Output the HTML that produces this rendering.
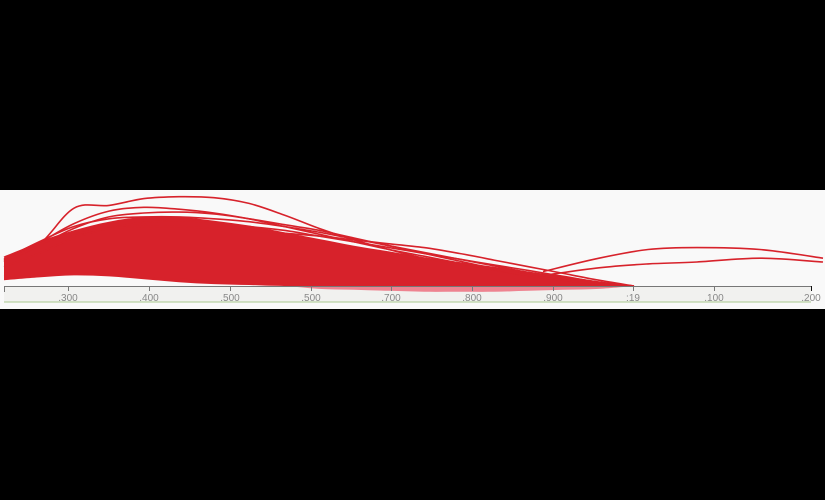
<!DOCTYPE html>
<html><head><meta charset="utf-8"><style>
html,body{margin:0;padding:0;background:#000;width:825px;height:500px;overflow:hidden}
svg{display:block}
</style></head><body>
<svg id="chart" width="825" height="500">
<rect x="0" y="190" width="825" height="119" fill="#f9f9f9"/>
<rect x="4" y="287" width="807" height="15" fill="#f1f1ef"/>
<line x1="4" y1="302" x2="811" y2="302" stroke="#a9c98f" stroke-width="1"/>
<g id="marks"></g>
<g id="axis"></g>
</svg>
<script>
const xs = [0,5,10,15,20,25,30,35,40,45,50,55,60,65,70,75,80,85,90];
const bandUpper = [29,46,58,67,72,72,68,63,56,49,42,36,30,25,20,15,10,5,0];
const bandLower = [6,9,11,10,7,4,2,1,0,0,0,0,0,0,0,0,0,0,0];
const pinkBand = [0,0,0,0,0,0,0,0,0,-3,-4,-5,-6,-6,-6,-5,-4,-3,0];
const curveTop = [25,43,81,84,91,93,92,86,74,60,48,38,29,23,17,10,6,2,0];
const curveA = [27,45,65,78,82,80,76,70,62,54,46,38,31,24,17,11,6,2,0];
const curveB = [26,42,60,72,76,77,75,70,64,58,50,42,34,26,18,11,6,2,0];
const curveC = [28,46,62,70,72,72,70,67,62,56,49,42,35,28,21,14,8,3,0];
const curveD = [20,34,50,60,66,68,66,62,58,52,46,40,34,28,22,16,10,4,0];
const curveE = [10,13,14,12,9,7,5,4,3,2,1,1,0,0,0,0,0,0,0];
const curveF = [30,44,54,60,62,62,60,58,55,52,48,44,40,34,27,20,13,6,0];
const rightX = [77,85,92,99,108,117];
const rightA = [15,29,38,40,38,29];
const rightB = [11,19,23,25,29,25];
const tickLabels = [".300",".400",".500",".500",".700",".800",".900",":19",".100",".200"];
const tickPx = [68,149,230,311,391,472,553,633,714,811];

const X = v => 4 + v*7.0;
const Y = v => 286 - v*0.96;
const ns = "http://www.w3.org/2000/svg";
const marks = document.getElementById('marks');
function smooth(pts, move){
  let d = move ? 'M'+pts[0][0].toFixed(1)+','+pts[0][1].toFixed(1) : 'L'+pts[0][0].toFixed(1)+','+pts[0][1].toFixed(1);
  for(let i=0;i<pts.length-1;i++){
    const p0=pts[Math.max(0,i-1)],p1=pts[i],p2=pts[i+1],p3=pts[Math.min(pts.length-1,i+2)];
    const c1=[p1[0]+(p2[0]-p0[0])/6,p1[1]+(p2[1]-p0[1])/6];
    const c2=[p2[0]-(p3[0]-p1[0])/6,p2[1]-(p3[1]-p1[1])/6];
    d+='C'+c1[0].toFixed(1)+','+c1[1].toFixed(1)+' '+c2[0].toFixed(1)+','+c2[1].toFixed(1)+' '+p2[0].toFixed(1)+','+p2[1].toFixed(1);
  }
  return d;
}
function pts(xa, ya){ return xa.map((x,i)=>[X(x),Y(ya[i])]); }
function pathFrom(xa, ya){ return smooth(pts(xa,ya),true); }
function areaFrom(xa, up, lo){ return smooth(pts(xa,up),true)+smooth(pts(xa,lo).reverse(),false)+'Z'; }

const band = document.createElementNS(ns,'path');
band.setAttribute('d', areaFrom(xs,bandUpper,bandLower));
band.setAttribute('fill','#d7222b');


marks.appendChild(band);

const pink = document.createElementNS(ns,'path');
pink.setAttribute('d', areaFrom(xs,xs.map(()=>0),pinkBand));
pink.setAttribute('fill','#ee8390');


marks.appendChild(pink);

const curves = [curveTop,curveA,curveB,curveC,curveD,curveE,curveF];
curves.forEach(c=>{
  const p = document.createElementNS(ns,'path');
  p.setAttribute('d', pathFrom(xs,c));
  p.setAttribute('fill','none');
  p.setAttribute('stroke','#d7222b');
  p.setAttribute('stroke-width','1.6');
  
  
  marks.appendChild(p);
});
[rightA,rightB].forEach(c=>{
  const p = document.createElementNS(ns,'path');
  p.setAttribute('d', pathFrom(rightX,c));
  p.setAttribute('fill','none');
  p.setAttribute('stroke','#d7222b');
  p.setAttribute('stroke-width','1.6');
  
  
  marks.appendChild(p);
});

const axis = document.getElementById('axis');
const al = document.createElementNS(ns,'line');
al.setAttribute('x1',4);al.setAttribute('x2',811);al.setAttribute('y1',286.5);al.setAttribute('y2',286.5);
al.setAttribute('stroke','#777');


axis.appendChild(al);
const t0 = document.createElementNS(ns,'line');
t0.setAttribute('x1',4.5);t0.setAttribute('x2',4.5);t0.setAttribute('y1',286);t0.setAttribute('y2',292);t0.setAttribute('stroke','#777');


axis.appendChild(t0);
tickLabels.forEach((lab,i)=>{
  const px = tickPx[i];
  const t = document.createElementNS(ns,'line');
  t.setAttribute('x1',px+0.5);t.setAttribute('x2',px+0.5);t.setAttribute('y1',286);t.setAttribute('y2',291);
  t.setAttribute('stroke', i===tickLabels.length-1?'#111':'#777');
  
  
  axis.appendChild(t);
  const tx = document.createElementNS(ns,'text');
  tx.setAttribute('x',px);tx.setAttribute('y',301);
  tx.setAttribute('text-anchor','middle');
  tx.setAttribute('font-family','Liberation Sans, sans-serif');
  tx.setAttribute('font-size','10');
  tx.setAttribute('fill','#888');
  tx.textContent = lab;
  
  
  axis.appendChild(tx);
});
</script>
</body></html>
